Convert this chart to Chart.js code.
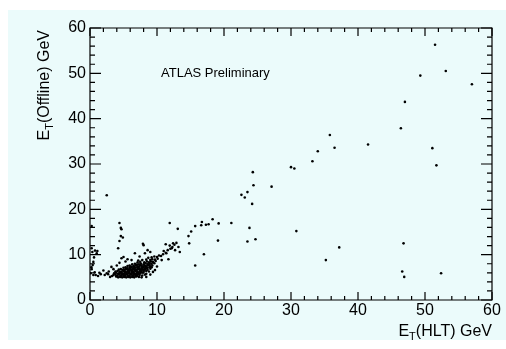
<!DOCTYPE html>
<html>
<head>
<meta charset="utf-8">
<script src="https://cdn.jsdelivr.net/npm/chart.js@4.4.1/dist/chart.umd.min.js"></script>
<style>
  html, body { margin: 0; padding: 0; background: #fff; }
</style>
</head>
<body>
<canvas id="chart" width="506" height="349"></canvas>
<script>
/********************
 * E_T(Offline) vs E_T(HLT) scatter, ROOT/ATLAS look
 ********************/

// axis ticks
const xTicks = [0, 10, 20, 30, 40, 50, 60];
const yTicks = [0, 10, 20, 30, 40, 50, 60];

// [E_T(HLT), E_T(Offline)] in GeV
// dense low-E_T blob
const lowEtCluster = [
  [3.9,5.2],[4.2,5.0],[4.5,5.1],[4.8,5.0],[5.1,5.1],[5.4,5.0],[5.7,5.1],[6.0,5.0],[6.3,5.1],[6.6,5.0],[6.9,5.2],[7.3,5.1],[7.7,5.0],
  [3.5,5.5],[3.8,5.6],[4.1,5.4],[4.4,5.6],[4.7,5.5],[5.0,5.4],[5.3,5.6],[5.6,5.5],[5.9,5.4],[6.2,5.6],[6.5,5.5],[6.8,5.4],[7.1,5.6],[7.4,5.5],[7.8,5.4],[8.2,5.6],
  [3.6,5.9],[3.9,6.0],[4.2,5.8],[4.5,6.0],[4.8,5.9],[5.1,5.8],[5.4,6.0],[5.7,5.9],[6.0,5.8],[6.3,6.0],[6.6,5.9],[6.9,5.8],[7.2,6.0],[7.5,5.9],[7.9,6.0],[8.4,5.8],
  [3.8,6.3],[4.1,6.4],[4.4,6.2],[4.7,6.3],[5.0,6.4],[5.3,6.2],[5.6,6.3],[5.9,6.4],[6.2,6.2],[6.5,6.3],[6.8,6.4],[7.1,6.2],[7.4,6.3],[7.7,6.4],[8.0,6.2],[8.4,6.4],[8.8,6.3],
  [4.3,6.7],[4.6,6.8],[4.9,6.6],[5.2,6.7],[5.5,6.8],[5.8,6.6],[6.1,6.7],[6.4,6.8],[6.7,6.6],[7.0,6.7],[7.3,6.8],[7.6,6.6],[7.9,6.7],[8.2,6.8],[8.6,6.7],[9.0,6.9],
  [5.0,7.1],[5.3,7.2],[5.6,7.0],[5.9,7.1],[6.2,7.2],[6.5,7.0],[6.8,7.1],[7.1,7.2],[7.4,7.0],[7.7,7.1],[8.0,7.2],[8.3,7.0],[8.6,7.1],[8.9,7.3],[9.2,7.2],
  [5.6,7.5],[5.9,7.6],[6.2,7.4],[6.5,7.5],[6.8,7.6],[7.1,7.4],[7.4,7.5],[7.7,7.6],[8.0,7.4],[8.3,7.5],[8.6,7.6],[8.9,7.7],[9.3,7.6],
  [6.3,7.9],[6.7,8.0],[7.0,7.8],[7.3,7.9],[7.6,8.0],[8.0,7.9],[8.3,8.1],[8.6,7.9],[8.9,8.1],[9.2,8.0],[9.6,8.1],
  [7.1,8.3],[7.5,8.4],[8.1,8.3],[8.5,8.5],[8.8,8.3],[9.1,8.5],[9.4,8.4],[9.8,8.6],
  [8.4,5.1],[9.0,5.6],[9.4,6.2],[9.7,6.6],[10.0,7.4],
  [4.0,5.3],[4.6,5.3],[5.2,5.3],[5.8,5.2],[6.4,5.3],[7.0,5.3],[4.3,5.8],[4.9,5.7],[5.5,5.7],[6.1,5.7],
  [6.7,5.7],[7.3,5.8],[4.6,6.1],[5.2,6.1],[5.8,6.1],[6.4,6.1],[7.0,6.0],[7.6,6.1],[5.1,6.5],[5.7,6.5],
  [6.3,6.5],[6.9,6.5],[7.5,6.5],[8.1,6.5],[5.4,6.9],[6.0,6.9],[6.6,6.9],[7.2,6.9],[7.8,6.9],[8.4,7.0],
  [6.0,7.3],[6.6,7.3],[7.2,7.3],[7.8,7.3],[8.4,7.3],[9.0,7.4],[6.9,7.7],[7.5,7.7],[8.1,7.7],[8.7,7.8]
];

// rising band above the blob
const turnOnBand = [
  [7.8,8.8],[8.4,8.9],[9.0,8.8],[9.3,9.0],[9.7,8.9],[10.1,9.1],
  [8.7,9.3],[9.2,9.4],[9.6,9.6],[10.0,9.5],[10.3,9.8],[10.6,9.7],[10.9,10.1],[11.3,10.4],[11.0,10.8],
  [11.6,11.0],[12.0,11.3],[12.3,11.7],[12.6,12.2],[12.9,12.6],[12.4,12.5],[11.9,12.0],[11.3,12.3],
  [13.2,11.7],[13.4,10.6],[12.7,11.0],[11.7,9.0],[10.7,8.8],[11.4,10.3],[12.2,11.4]
];

// sparse points around the blob and near zero
const lowEtScatter = [
  [4.0,7.6],[4.4,8.2],[4.7,9.2],[5.3,8.5],[5.0,9.5],[6.2,8.8],[6.7,10.3],[7.4,9.6],[8.0,12.1],[8.6,11.0],
  [9.0,10.6],[8.2,10.3],[7.9,12.4],[7.2,8.7],[3.5,6.8],[3.2,7.3],[5.6,9.0],
  [0.1,5.9],[0.25,6.8],[0.4,7.7],[0.5,8.4],[0.6,9.4],[0.35,10.6],[0.75,10.9],[1.1,10.8],[0.25,11.4],
  [1.0,10.3],[0.25,16.3],[0.5,5.5],[0.85,5.5],[1.2,5.3],[1.6,5.7],[2.0,6.5],[2.2,5.5],[2.5,5.9],
  [2.7,5.7],[3.0,5.1],[3.3,5.3],[0.2,7.2],[0.7,6.1],[1.4,6.0],[2.8,6.3],
  [2.5,23.1],[4.4,17.0],[4.6,15.9],[4.7,15.6],[4.4,13.0],[4.6,14.1],[4.2,11.4],[4.9,13.8]
];

// mid and high E_T points
const highEtPoints = [
  [11.9,17.0],[13.1,15.7],[14.7,14.1],[15.1,15.1],[15.7,16.3],[16.6,16.5],[16.7,17.2],[17.3,16.6],
  [17.7,16.7],[18.3,17.8],[19.2,16.9],[21.1,17.0],[14.8,12.5],[19.1,13.1],[17.0,10.1],[15.7,7.6],
  [22.6,23.2],[23.1,22.6],[23.5,23.8],[24.2,21.2],[24.3,28.2],[24.4,25.3],[27.1,25.0],
  [23.8,15.9],[23.5,12.9],[24.7,13.4],[30.8,15.2],[35.2,8.8],[37.2,11.6],
  [30.0,29.3],[30.5,29.0],[33.2,30.6],[34.0,32.8],[35.8,36.4],[36.5,33.6],[41.5,34.3],
  [46.4,37.9],[47.0,43.7],[49.3,49.5],[51.5,56.3],[53.1,50.5],[57.0,47.6],[51.1,33.5],[51.7,29.7],
  [46.8,12.5],[46.6,6.3],[46.9,5.1],[52.4,5.9]
];

const FONT = '"Liberation Sans", Arial, Helvetica, sans-serif';

function toXY(list){
  return list.map(p => ({ x: p[0], y: p[1] }));
}

// light cyan pad behind everything
const padPlugin = {
  id: "rootPad",
  beforeDraw(chart){
    const ctx = chart.ctx;
    ctx.save();
    ctx.fillStyle = "#ebfbfb";
    ctx.fillRect(8, 10, 498, 330);
    ctx.restore();
  }
};

// ROOT style frame with inward ticks on all sides + titles
const framePlugin = {
  id: "rootFrame",
  afterDraw(chart){
    const ctx = chart.ctx;
    const a = chart.chartArea;
    const xs = chart.scales.x;
    const ys = chart.scales.y;
    const L = a.left, R = a.right, T = a.top, B = a.bottom;

    ctx.save();
    ctx.strokeStyle = "#000000";
    ctx.lineWidth = 1.2;

    for(let v = 0; v <= 60; v += 2){
      const major = v % 10 === 0;
      const px = xs.getPixelForValue(v);
      const py = ys.getPixelForValue(v);
      const lx = major ? 8 : 4;
      const ly = major ? 11 : 5;
      ctx.beginPath();
      ctx.moveTo(px, B); ctx.lineTo(px, B - lx);
      ctx.moveTo(px, T); ctx.lineTo(px, T + lx);
      ctx.moveTo(L, py); ctx.lineTo(L + ly, py);
      ctx.moveTo(R, py); ctx.lineTo(R - ly, py);
      ctx.stroke();
    }
    ctx.beginPath();
    ctx.rect(L, T, R - L, B - T);
    ctx.stroke();

    // axis titles with subscript T
    ctx.fillStyle = "#000";
    const big = "16px " + FONT;
    const small = "11px " + FONT;

    function drawSubTitle(rest){
      ctx.font = big;
      const wE = ctx.measureText("E").width;
      const wRest = ctx.measureText(rest).width;
      ctx.font = small;
      const wT = ctx.measureText("T").width;
      let x = -(wE + wT + wRest);
      ctx.textAlign = "left";
      ctx.textBaseline = "alphabetic";
      ctx.font = big;
      ctx.fillText("E", x, 0); x += wE;
      ctx.font = small;
      ctx.fillText("T", x, 4); x += wT;
      ctx.font = big;
      ctx.fillText(rest, x, 0);
    }

    ctx.save();
    ctx.translate(R, 336);
    drawSubTitle("(HLT) GeV");
    ctx.restore();

    ctx.save();
    ctx.translate(49, T + 2);
    ctx.rotate(-Math.PI / 2);
    drawSubTitle("(Offline) GeV");
    ctx.restore();

    ctx.font = "13px " + FONT;
    ctx.textAlign = "left";
    ctx.textBaseline = "alphabetic";
    ctx.fillText("ATLAS Preliminary", 161, 77);
    ctx.restore();
  }
};

const allPoints = [].concat(lowEtCluster, turnOnBand, lowEtScatter, highEtPoints);

new Chart(document.getElementById("chart").getContext("2d"), {
  type: "scatter",
  data: {
    datasets: [{
      label: "events",
      data: toXY(allPoints),
      pointRadius: 1.3,
      pointHoverRadius: 1.3,
      pointBackgroundColor: "#000",
      pointBorderWidth: 0
    }]
  },
  options: {
    responsive: false,
    animation: false,
    layout: { padding: { left: 0, right: 14, top: 28, bottom: 0 } },
    plugins: { legend: { display: false }, tooltip: { enabled: false } },
    scales: {
      x: {
        type: "linear",
        position: "bottom",
        min: 0, max: 60,
        afterBuildTicks: s => { s.ticks = xTicks.map(v => ({ value: v })); },
        afterFit: s => { s.height = 49; },
        grid: { display: false, drawTicks: false },
        border: { display: false },
        ticks: { color: "#000", font: { family: FONT, size: 16 }, padding: 1, maxRotation: 0, autoSkip: false }
      },
      y: {
        type: "linear",
        min: 0, max: 60,
        afterBuildTicks: s => { s.ticks = yTicks.map(v => ({ value: v })); },
        afterFit: s => { s.width = 90; },
        grid: { display: false, drawTicks: false },
        border: { display: false },
        ticks: { color: "#000", font: { family: FONT, size: 16 }, padding: 4, autoSkip: false }
      }
    }
  },
  plugins: [padPlugin, framePlugin]
});
</script>
</body>
</html>
